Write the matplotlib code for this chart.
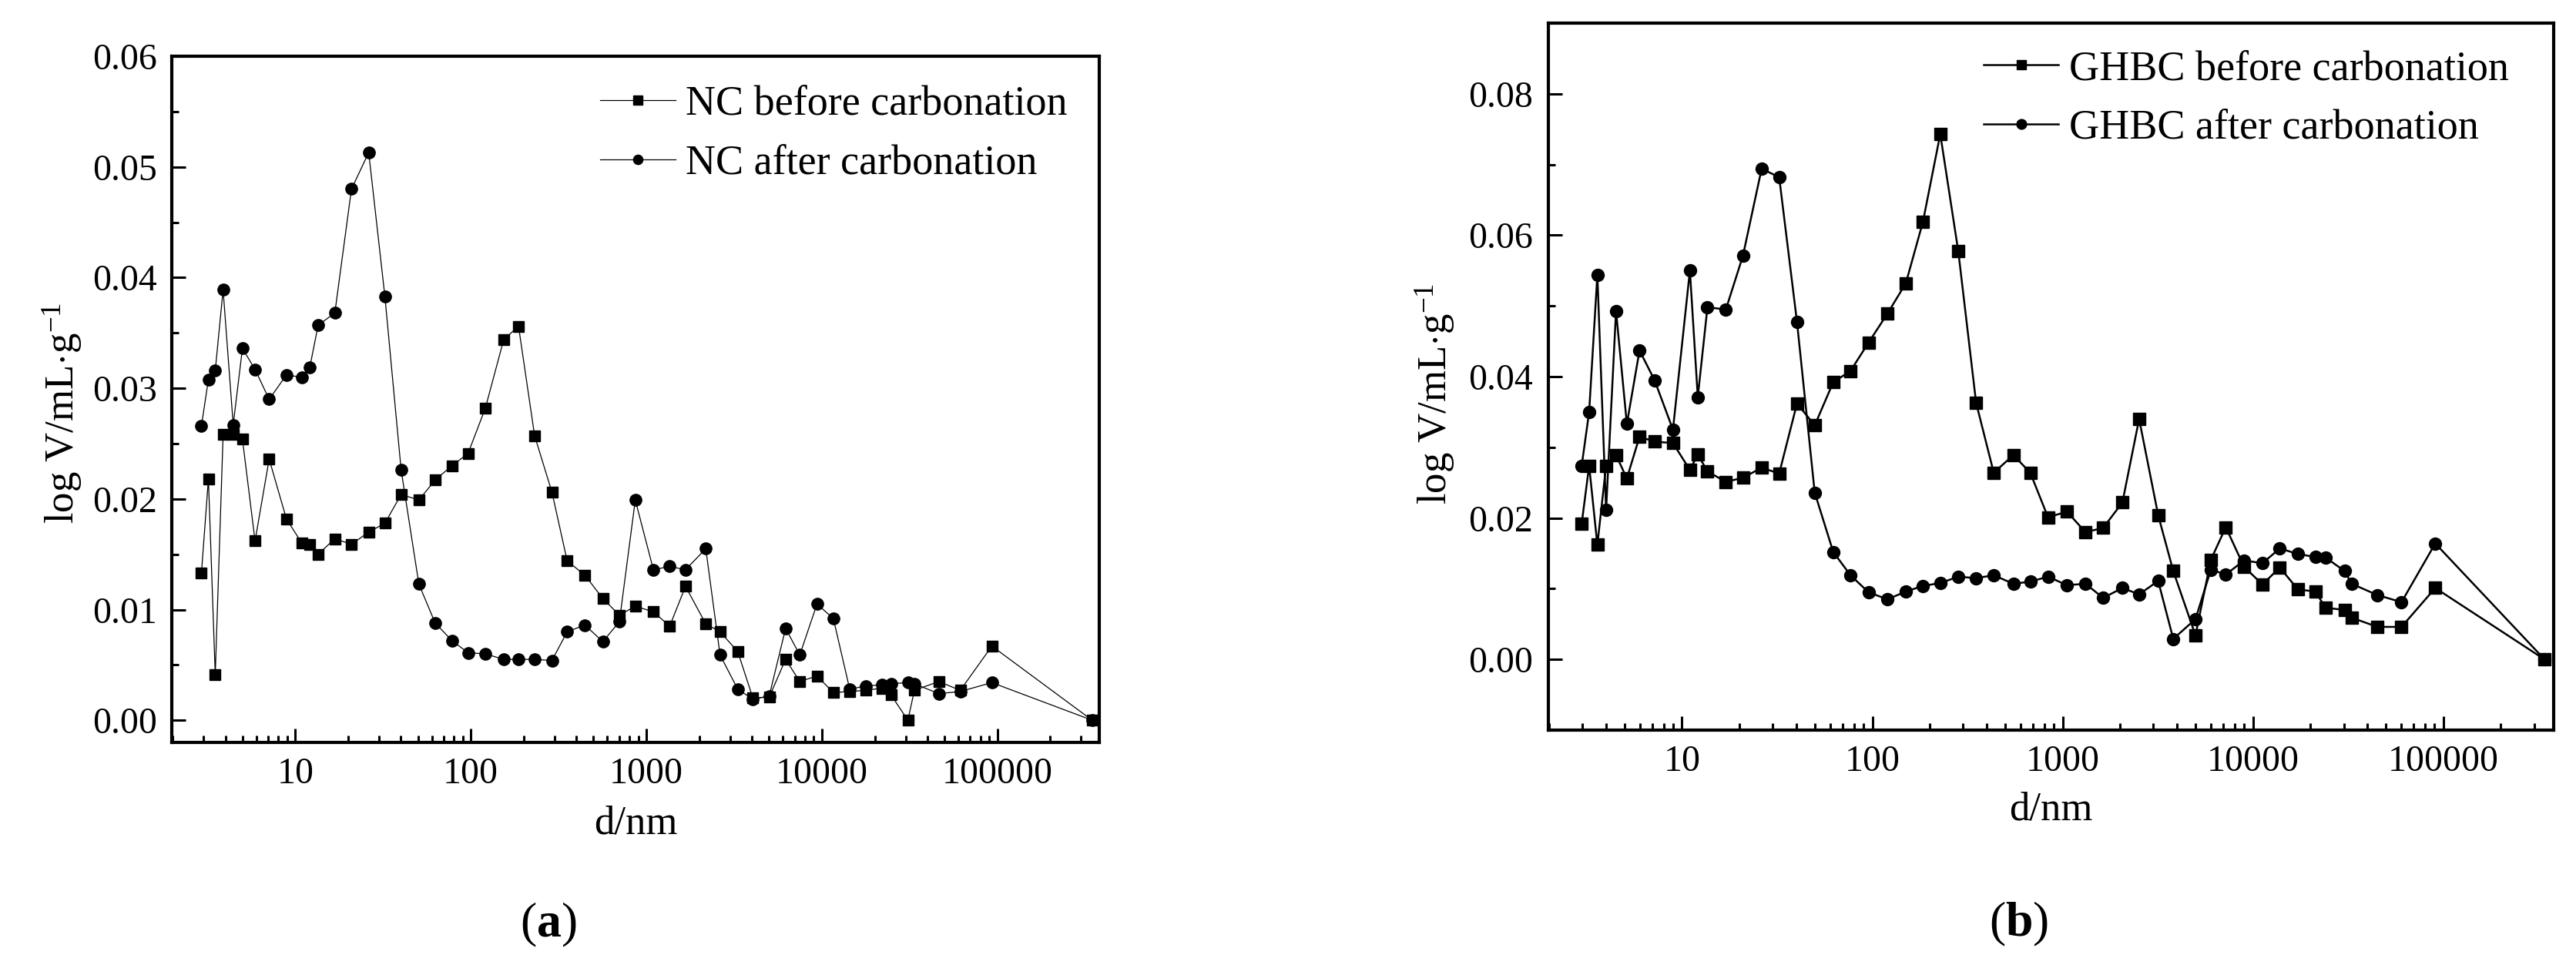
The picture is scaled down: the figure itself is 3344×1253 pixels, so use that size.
import matplotlib
matplotlib.use("Agg")
import matplotlib.pyplot as plt
from matplotlib.ticker import LogLocator, MultipleLocator, FormatStrFormatter, FuncFormatter, NullFormatter

# pore diameter (nm) and log differential intrusion (mL/g)
d_nc = [2.92, 3.2, 3.5, 3.88, 4.43, 5.0, 5.9, 7.1, 8.9, 10.9, 12.1, 13.5, 16.8, 20.9,
        26.2, 32.4, 40.1, 50.6, 62.6, 78, 96.4, 121, 154, 187, 231, 290, 354, 447,
        565, 702, 865, 1097, 1358, 1672, 2181, 2630, 3318, 4046, 5014, 6214, 7483,
        9378, 11620, 14410, 17750, 21920, 24740, 30900, 33650, 46350, 61430, 93000,
        346600]
nc_before = [0.0133, 0.0218, 0.0041, 0.0258, 0.0258, 0.0254, 0.0162, 0.0236, 0.0182,
             0.0160, 0.0159, 0.0150, 0.0164, 0.0159, 0.0170, 0.0178, 0.0204, 0.0199,
             0.0217, 0.0230, 0.0241, 0.0282, 0.0344, 0.0356, 0.0257, 0.0206, 0.0144,
             0.0131, 0.0110, 0.0095, 0.0103, 0.0098, 0.0085, 0.0121, 0.0087, 0.0080,
             0.0062, 0.0020, 0.0021, 0.0055, 0.0035, 0.0040, 0.0025, 0.0026, 0.0027,
             0.0029, 0.0023, 0.0000, 0.0027, 0.0035, 0.0027, 0.0067, 0.0000]
nc_after = [0.0266, 0.0308, 0.0316, 0.0389, 0.0267, 0.0336, 0.0317, 0.0290, 0.0312,
            0.0310, 0.0319, 0.0357, 0.0368, 0.0480, 0.0513, 0.0383, 0.0226, 0.0123,
            0.0088, 0.0072, 0.0061, 0.0060, 0.0055, 0.0055, 0.0055, 0.0054, 0.0080,
            0.0086, 0.0071, 0.0089, 0.0199, 0.0136, 0.0139, 0.0136, 0.0155, 0.0059,
            0.0028, 0.0019, 0.0022, 0.0083, 0.0059, 0.0105, 0.0092, 0.0028, 0.0031,
            0.0032, 0.0033, 0.0034, 0.0033, 0.0024, 0.0026, 0.0034, 0.0000]

d_ghbc = [2.97, 3.25, 3.59, 3.99, 4.5, 5.13, 5.98, 7.17, 8.96, 11.0, 12.1, 13.6, 17.0,
          20.9, 26.2, 32.4, 40.2, 49.8, 62.3, 76.8, 95.5, 120, 150, 184.5, 227.5, 283,
          351, 434.5, 551, 676, 838, 1054, 1318, 1633, 2061, 2523, 3177, 3813, 4990,
          6012, 7200, 8980, 11220, 13840, 17220, 21250, 24100, 30300, 33000, 45100,
          60350, 90800, 340600]
ghbc_before = [0.0192, 0.0274, 0.0162, 0.0274, 0.0289, 0.0256, 0.0315, 0.0308, 0.0306,
               0.0268, 0.0290, 0.0266, 0.0251, 0.0257, 0.0271, 0.0263, 0.0362, 0.0331,
               0.0392, 0.0408, 0.0448, 0.0489, 0.0532, 0.0619, 0.0743, 0.0577, 0.0363,
               0.0264, 0.0289, 0.0264, 0.0201, 0.0209, 0.0180, 0.0186, 0.0222, 0.0340,
               0.0204, 0.0125, 0.0034, 0.0141, 0.0187, 0.0131, 0.0106, 0.0130, 0.0099,
               0.0096, 0.0073, 0.0070, 0.0059, 0.0046, 0.0046, 0.0101, 0.0000]
ghbc_after = [0.0274, 0.0350, 0.0544, 0.0211, 0.0493, 0.0333, 0.0437, 0.0395, 0.0325,
              0.0550, 0.0371, 0.0498, 0.0495, 0.0571, 0.0694, 0.0682, 0.0477, 0.0236,
              0.0152, 0.0119, 0.0095, 0.0085, 0.0096, 0.0104, 0.0108, 0.0117, 0.0115,
              0.0119, 0.0107, 0.0110, 0.0117, 0.0105, 0.0107, 0.0087, 0.0101, 0.0092,
              0.0111, 0.0029, 0.0057, 0.0127, 0.0120, 0.0140, 0.0136, 0.0157, 0.0149,
              0.0145, 0.0144, 0.0125, 0.0107, 0.0091, 0.0081, 0.0164, 0.0000]

plt.rcParams.update({
    "font.family": ["Liberation Serif", "DejaVu Serif"],
    "mathtext.fontset": "custom",
    "mathtext.rm": "Liberation Serif",
    "mathtext.it": "Liberation Serif:italic",
    "mathtext.bf": "Liberation Serif:bold",
})

TICK_FS = 34.5
LABEL_FS = 38
LEG_FS = 39


def style_axes(ax, ymax, ymin, ymajor, yminor):
    ax.set_xscale("log")
    ax.set_xlim(1.98, 3.8e5)
    ax.set_ylim(ymin, ymax)
    ax.xaxis.set_major_locator(LogLocator(base=10, numticks=20))
    ax.xaxis.set_minor_locator(LogLocator(base=10, subs=range(2, 10), numticks=40))
    ax.xaxis.set_major_formatter(FuncFormatter(lambda v, p: f"{int(round(v))}"))
    ax.xaxis.set_minor_formatter(NullFormatter())
    ax.yaxis.set_major_locator(MultipleLocator(ymajor))
    ax.yaxis.set_minor_locator(MultipleLocator(yminor))
    ax.yaxis.set_major_formatter(FormatStrFormatter("%.2f"))
    for s in ax.spines.values():
        s.set_linewidth(3.0)
    ax.tick_params(which="both", direction="in", top=False, right=False,
                   labelsize=TICK_FS, pad=14)
    ax.tick_params(which="major", length=13, width=2.2)
    ax.tick_params(which="minor", length=6.5, width=2.2)


fig = plt.figure(figsize=(33.44, 12.53), dpi=100)
ax_a = fig.add_axes([0.0667, 0.2307, 0.3600, 0.7110])
ax_b = fig.add_axes([0.6010, 0.2434, 0.3903, 0.7327])

# (a) NC
ax_a.plot(d_nc, nc_before, "-s", color="black", lw=0.9, ms=10.5, label="NC before carbonation")
ax_a.plot(d_nc, nc_after, "-o", color="black", lw=0.9, ms=11, label="NC after carbonation")
style_axes(ax_a, 0.06, -0.002, 0.01, 0.005)

# (b) GHBC
ax_b.plot(d_ghbc, ghbc_before, "-s", color="black", lw=1.8, ms=11, label="GHBC before carbonation")
ax_b.plot(d_ghbc, ghbc_after, "-o", color="black", lw=1.8, ms=11.5, label="GHBC after carbonation")
style_axes(ax_b, 0.09, -0.01, 0.02, 0.01)

for ax, lx, ly, ylx, yly, xly in [
    (ax_a, 0.462, 0.958, -0.094, 0.48, -0.091),
    (ax_b, 0.433, 0.962, -0.090, 0.475, -0.087),
]:
    ax.legend(loc="upper left", bbox_to_anchor=(lx, ly), frameon=False, fontsize=LEG_FS,
              borderpad=0, borderaxespad=0, handlelength=1.8, handletextpad=0.25,
              labelspacing=0.48, markerscale=0.8)
    ax.set_xlabel("d/nm", fontsize=LABEL_FS)
    ax.set_ylabel(r"log V/mL$\cdot$g$^{-1}$", fontsize=LABEL_FS)
    ax.yaxis.set_label_coords(ylx, yly)
    ax.xaxis.set_label_coords(0.5, xly)

fig.text(712 / 3344, 1 - 1201 / 1253, r"($\mathbf{a}$)", ha="center", va="center", fontsize=46)
fig.text(2621 / 3344, 1 - 1200 / 1253, r"($\mathbf{b}$)", ha="center", va="center", fontsize=46)

fig.savefig("out.png", dpi=100, facecolor="white")
